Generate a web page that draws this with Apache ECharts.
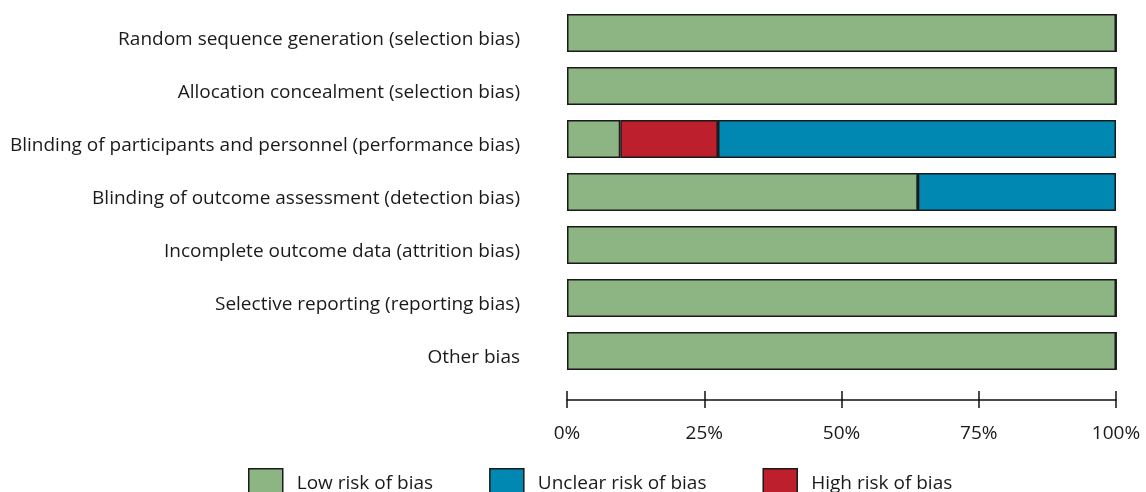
<!DOCTYPE html>
<html><head><meta charset="utf-8">
<script src="https://cdn.jsdelivr.net/npm/echarts@6/dist/echarts.min.js"></script>
<style>html,body{margin:0;padding:0;background:#fff}#c{width:1146px;height:492px}</style>
</head><body><div id="c"></div>
<script>
const categories = [
  "Random sequence generation (selection bias)",
  "Allocation concealment (selection bias)",
  "Blinding of participants and personnel (performance bias)",
  "Blinding of outcome assessment (detection bias)",
  "Incomplete outcome data (attrition bias)",
  "Selective reporting (reporting bias)",
  "Other bias"
];
const lowRisk = [100, 100, 9.7, 63.9, 100, 100, 100];
const highRisk = [0, 0, 17.8, 0, 0, 0, 0];
const unclearRisk = [0, 0, 72.5, 36.1, 0, 0, 0];
const xTicks = [0, 25, 50, 75, 100];

const FONT = 'Open Sans';
const chart = echarts.init(document.getElementById('c'));
const barStyle = c => ({color: c, borderColor: '#1a1a1a', borderWidth: 1.5});
const mk = (name, data, c) => ({
  name, type: 'bar', stack: 's', data, barWidth: 38,
  itemStyle: barStyle(c), emphasis: {disabled: true},
  xAxisIndex: 0, yAxisIndex: 0
});
chart.setOption({
  animation: false,
  textStyle: {fontFamily: FONT},
  grid: {left: 567, right: 30, top: 6.5, height: 371, containLabel: false},
  legend: {
    top: 463, left: 243,
    itemWidth: 34, itemHeight: 30, itemGap: 56,
    icon: 'rect',
    textStyle: {fontFamily: FONT, fontSize: 19, color: '#1a1a1a', padding: [0, 0, 0, 9]},
    data: [
      {name: 'Low risk of bias', itemStyle: barStyle('#8DB483')},
      {name: 'Unclear risk of bias', itemStyle: barStyle('#0088B3')},
      {name: 'High risk of bias', itemStyle: barStyle('#BD1F2D')}
    ]
  },
  xAxis: [{
    type: 'value', min: 0, max: 100, interval: 25, position: 'bottom', offset: 22.5,
    splitLine: {show: false},
    axisLine: {show: true, lineStyle: {color: '#111', width: 1.5}},
    axisTick: {show: true, length: 8, lineStyle: {color: '#111', width: 1.5}},
    axisLabel: {margin: 24, fontSize: 19, color: '#1a1a1a', fontFamily: FONT,
      formatter: v => xTicks.includes(v) ? v + '%' : ''}
  }, {
    type: 'value', min: 0, max: 100, interval: 25, position: 'bottom', offset: 22.5,
    splitLine: {show: false},
    axisLine: {show: false},
    axisTick: {show: true, inside: true, length: 9, lineStyle: {color: '#111', width: 1.5}},
    axisLabel: {show: false}
  }],
  yAxis: {
    type: 'category', data: categories, inverse: true,
    axisLine: {show: false}, axisTick: {show: false},
    axisLabel: {margin: 47, fontSize: 19, color: '#1a1a1a', fontFamily: FONT,
      verticalAlign: 'top', lineHeight: 14}
  },
  series: [
    mk('Low risk of bias', lowRisk, '#8DB483'),
    mk('High risk of bias', highRisk, '#BD1F2D'),
    mk('Unclear risk of bias', unclearRisk, '#0088B3')
  ]
});
</script></body></html>
